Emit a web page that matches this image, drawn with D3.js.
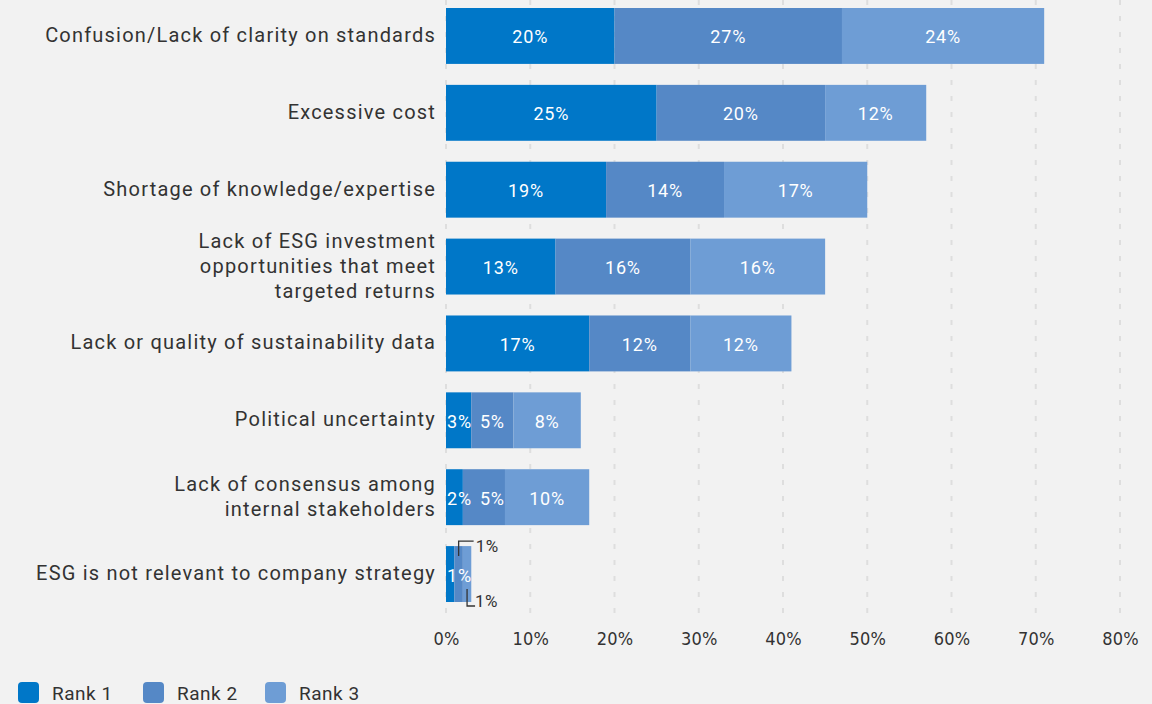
<!DOCTYPE html>
<html>
<head>
<meta charset="utf-8">
<script src="https://cdn.jsdelivr.net/npm/d3@7"></script>
<style>
  html, body { margin: 0; padding: 0; background: #f2f2f2; }
  svg { display: block; font-family: Roboto, "Noto Sans", sans-serif; }
</style>
</head>
<body>
<svg id="chart" width="1152" height="704"></svg>
<script>
// Barriers to ESG adoption, share of respondents by rank
const categories = [
  ["Confusion/Lack of clarity on standards"],
  ["Excessive cost"],
  ["Shortage of knowledge/expertise"],
  ["Lack of ESG investment", "opportunities that meet", "targeted returns"],
  ["Lack or quality of sustainability data"],
  ["Political uncertainty"],
  ["Lack of consensus among", "internal stakeholders"],
  ["ESG is not relevant to company strategy"]
];
const rank1 = [20, 25, 19, 13, 17, 3, 2, 1];
const rank2 = [27, 20, 14, 16, 12, 5, 5, 1];
const rank3 = [24, 12, 17, 16, 12, 8, 10, 1];
const seriesNames = ["Rank 1", "Rank 2", "Rank 3"];
const colors = ["#0077c8", "#5588c6", "#6e9dd5"];
const xTicks = [0, 10, 20, 30, 40, 50, 60, 70, 80];

const svg = d3.select("#chart");
const W = 1152;

const x = d3.scaleLinear().domain([0, 80]).range([446, W - 32]);
const y = d3.scaleBand().domain(d3.range(categories.length))
  .range([8, 602]).paddingInner(0.2727).paddingOuter(0);

// dashed vertical grid
svg.append("g").selectAll("line").data(xTicks).join("line")
  .attr("x1", d => x(d)).attr("x2", d => x(d))
  .attr("y1", 0).attr("y2", 614)
  .attr("stroke", "#dedede").attr("stroke-width", 2)
  .attr("stroke-dasharray", "5,11");

// stacked segments
const rows = categories.map((c, i) => ({ i, vals: [rank1[i], rank2[i], rank3[i]] }));
const stack = d3.stack().keys([0, 1, 2]).value((d, k) => d.vals[k]);
const layers = stack(rows);

const gBars = svg.append("g");
layers.forEach((layer, k) => {
  gBars.append("g").attr("fill", colors[k]).selectAll("rect").data(layer).join("rect")
    .attr("x", d => x(d[0]))
    .attr("width", d => x(d[1]) - x(d[0]))
    .attr("y", (d, i) => y(i))
    .attr("height", y.bandwidth());
});

// value labels inside segments (the last row uses callouts for ranks 2 and 3);
// labels wider than their segment are nudged right so neighbours don't collide
const last = categories.length - 1;
const gLab = svg.append("g").attr("fill", "#ffffff").style("font-size", "18px")
  .attr("text-anchor", "middle").attr("dominant-baseline", "central");
rows.forEach((row, i) => {
  let prevRight = -Infinity;
  layers.forEach((layer, k) => {
    if (i === last && k > 0) return;
    const d = layer[i];
    const t = gLab.append("text")
      .attr("y", y(i) + y.bandwidth() / 2 + 1)
      .style("letter-spacing", "0.8px")
      .text(row.vals[k] + "%");
    const w = t.node().getComputedTextLength();
    let cx = (x(d[0]) + x(d[1])) / 2;
    if (i === last) cx = x(d[0]) + 13;
    cx = Math.max(cx, x(d[0]) + w / 2 + 1, prevRight + 8 + w / 2);
    t.attr("x", cx);
    prevRight = cx + w / 2;
  });
});

// callouts for the thin segments of the last row
const gCall = svg.append("g");
const by0 = y(last), by1 = y(last) + y.bandwidth();
const c2 = (x(layers[1][last][0]) + x(layers[1][last][1])) / 2;
const c3 = (x(layers[2][last][0]) + x(layers[2][last][1])) / 2;
gCall.append("path")
  .attr("d", `M${c2},${by0 + 10}V${by0 - 5}H${c2 + 15}`)
  .attr("fill", "none").attr("stroke", "#333").attr("stroke-width", 1.3);
gCall.append("text").attr("x", c2 + 17).attr("y", by0)
  .attr("dominant-baseline", "central").attr("fill", "#333").style("font-size", "17px")
  .style("letter-spacing", "0.5px")
  .text(rank2[last] + "%");
gCall.append("path")
  .attr("d", `M${c3},${by1 - 13}V${by1 + 4}H${c3 + 8}`)
  .attr("fill", "none").attr("stroke", "#333").attr("stroke-width", 1.3);
gCall.append("text").attr("x", c3 + 8).attr("y", by1 - 1)
  .attr("dominant-baseline", "central").attr("fill", "#333").style("font-size", "17px")
  .style("letter-spacing", "0.5px")
  .text(rank3[last] + "%");

// category labels
const gCat = svg.append("g").attr("fill", "#333").style("font-size", "20px")
  .style("letter-spacing", "1.2px").attr("text-anchor", "end");
categories.forEach((lines, i) => {
  const cy = y(i) + y.bandwidth() / 2 - 1;
  const lh = 25;
  lines.forEach((t, j) => {
    gCat.append("text").attr("x", 436)
      .attr("y", cy + (j - (lines.length - 1) / 2) * lh)
      .attr("dominant-baseline", "central")
      .text(t);
  });
});

// x axis
const xAxis = d3.axisBottom(x).tickValues(xTicks).tickFormat(d => d + "%").tickSize(0).tickPadding(0);
const ax = svg.append("g").attr("transform", "translate(0,632)").call(xAxis);
ax.select(".domain").remove();
ax.selectAll("text").attr("fill", "#333").style("font-size", "18px")
  .style("font-family", "'Liberation Sans Narrow', 'DejaVu Sans Condensed', Roboto, sans-serif")
  .style("letter-spacing", "0.2px");

// legend
const legendX = [18, 143, 265];
const gLeg = svg.append("g");
seriesNames.forEach((n, k) => {
  gLeg.append("rect").attr("x", legendX[k]).attr("y", 682).attr("width", 21).attr("height", 21)
    .attr("rx", 4).attr("fill", colors[k]);
  gLeg.append("text").attr("x", legendX[k] + 34).attr("y", 693)
    .attr("dominant-baseline", "central").attr("fill", "#333")
    .style("font-size", "19px").style("letter-spacing", "0.5px").text(n);
});
</script>
</body>
</html>
